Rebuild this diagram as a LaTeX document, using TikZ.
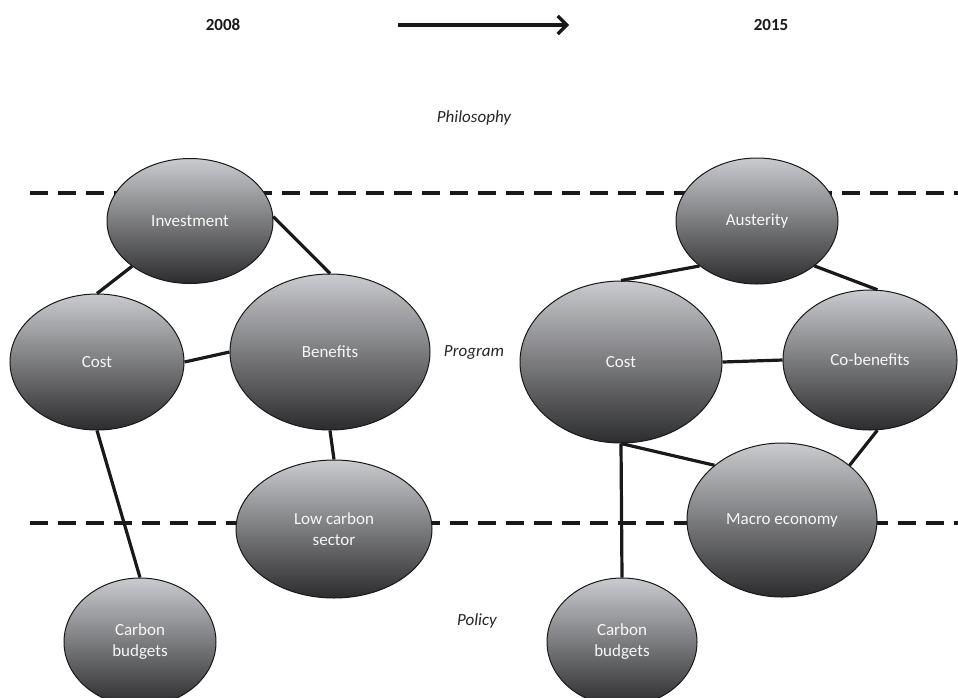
\documentclass[tikz,border=0pt]{standalone}
\usepackage{fontspec}
\setmainfont{Carlito}
\usetikzlibrary{arrows.meta}
\usetikzlibrary{shapes.geometric}
\usetikzlibrary{positioning}

\definecolor{bubbletop}{RGB}{202,203,206}
\definecolor{bubblemid}{RGB}{166,167,171}
\definecolor{bubblebot}{RGB}{44,44,46}

\tikzset{
	bubble/.style={ellipse, draw=black!90, line width=1pt, inner sep=0pt,
		top color=bubbletop, middle color=bubblemid, bottom color=bubblebot,
		text=white!94!gray, align=center, font=\fontsize{17}{21}\selectfont},
	link/.style={line width=3.2pt, black!90},
	tier/.style={line width=3.4pt, black!90, dash pattern=on 18pt off 10pt},
	level/.style={font=\fontsize{17}{20}\selectfont\itshape, text=black!85},
	year/.style={font=\fontsize{17}{20}\selectfont\bfseries, text=black!90}
}

\begin{document}
\begin{tikzpicture}[x=1pt,y=-1pt]
	\useasboundingbox (0,0) rectangle (958,697);

	% header
	\node[year] (y1) at (223,25) {2008};
	\node[year] (y2) at (771,25) {2015};
	\coordinate (tS) at (398,25);
	\coordinate (tE) at (569,25);
	\draw[line width=3.2pt, black!90, -{Straight Barb[length=9pt,width=18pt,line width=3.2pt]}] (tS) -- (tE);

	% levels
	\node[level] (phil) at (474,118) {Philosophy};
	\node[level] (prog) at (474,352) {Program};
	\node[level] (pol) at (477,621) {Policy};

	\coordinate (d1a) at (30,193);
	\coordinate (d1b) at (958,193);
	\coordinate (d2a) at (30,523);
	\coordinate (d2b) at (958,523);
	\draw[tier] (d1a) -- (d1b);
	\draw[tier] (d2a) -- (d2b);

	% 2008
	\node[bubble, minimum width=166pt, minimum height=125pt] (inv) at (190,221) {Investment};
	\node[bubble, minimum width=174pt, minimum height=136pt] (costA) at (97,362) {Cost};
	\node[bubble, minimum width=200pt, minimum height=156pt] (ben) at (330,352) {Benefits};
	\node[bubble, minimum width=196pt, minimum height=138pt] (low) at (334,529) {Low carbon\\sector};
	\node[bubble, minimum width=152pt, minimum height=128pt] (cbA) at (140,642) {Carbon\\budgets};

	% 2015
	\node[bubble, minimum width=162pt, minimum height=126pt] (aus) at (757,221) {Austerity};
	\node[bubble, minimum width=202pt, minimum height=162pt] (costB) at (621,362) {Cost};
	\node[bubble, minimum width=174pt, minimum height=140pt] (cob) at (870,360) {Co-benefits};
	\node[bubble, minimum width=190pt, minimum height=154pt] (mac) at (782,520) {Macro economy};
	\node[bubble, minimum width=150pt, minimum height=128pt] (cbB) at (622,642) {Carbon\\budgets};

	\draw[link] (inv.218) -- (costA.north);
	\draw[link] (inv.3) -- (ben.north);
	\draw[link] (costA.east) -- (ben.west);
	\draw[link] (costA.south) -- (cbA.north);
	\draw[link] (ben.south) -- (low.north);

	\draw[link] (aus.218) -- (costB.north);
	\draw[link] (aus.322) -- (cob.84);
	\draw[link] (costB.east) -- (cob.west);
	\draw[link] (costB.south) -- (mac.141);
	\draw[link] (costB.south) -- (cbB.north);
	\draw[link] (cob.276) -- (mac.39);
\end{tikzpicture}
\end{document}
